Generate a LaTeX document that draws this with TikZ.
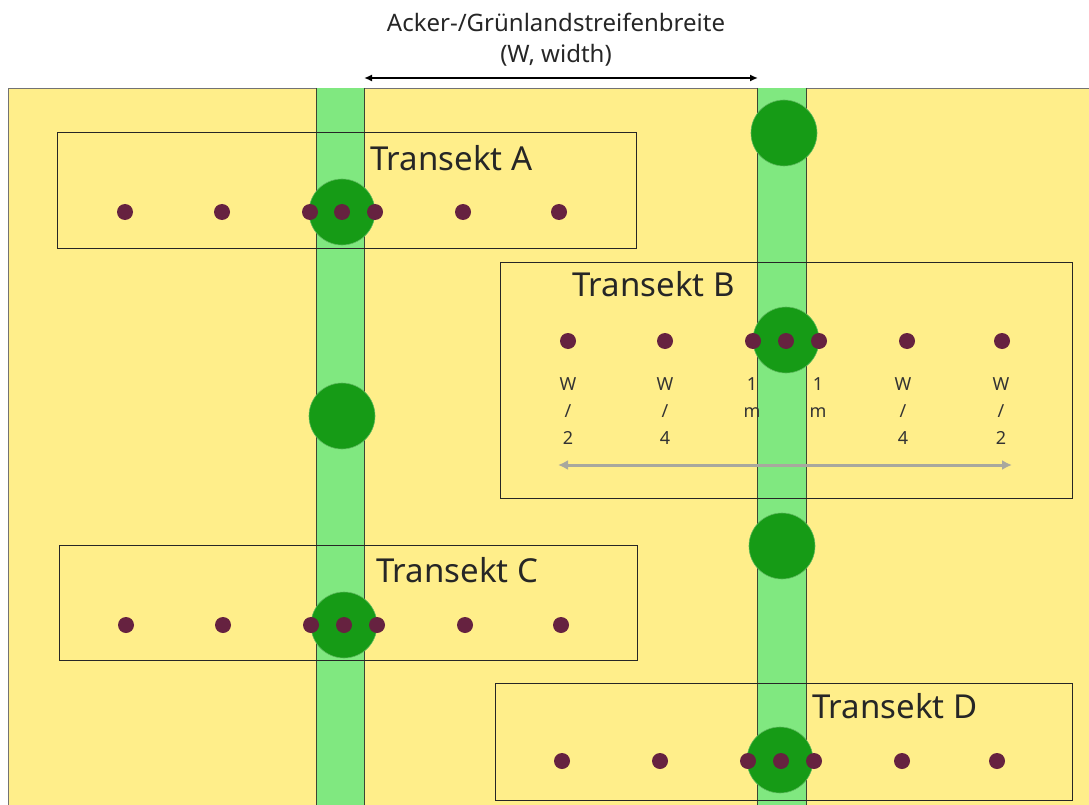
\documentclass[tikz,border=0pt]{standalone}
\usepackage{fontspec}
\setmainfont{Noto Sans}
\usetikzlibrary{arrows.meta}
\definecolor{field}{RGB}{255,238,138}
\definecolor{stripc}{RGB}{128,232,128}
\definecolor{treec}{RGB}{22,155,22}
\definecolor{dotc}{RGB}{102,34,64}
\definecolor{arrowgray}{RGB}{168,168,158}
\definecolor{edgec}{RGB}{60,70,50}
\begin{document}
\begin{tikzpicture}[x=1pt,y=-1pt,
  stripedge/.style={draw=edgec,line width=0.7pt},
  treeblob/.style={fill=treec,draw=treec!70!white,line width=0.6pt},
  pt/.style={fill=dotc},
  tbox/.style={draw=black!85,line width=1pt},
  tlabel/.style={font=\fontsize{33}{38}\selectfont,text=black!85,inner sep=0pt},
  slabel/.style={font=\fontsize{18}{27}\selectfont,text=black!80,align=center,inner sep=0pt},
  toplabel/.style={font=\fontsize{24}{31}\selectfont,text=black!85,align=center,inner sep=0pt}]
\useasboundingbox (0,0) rectangle (1089,805);
% field
\fill[field] (8,88) rectangle (1089,805);
\draw[draw=black!55,line width=0.9pt] (8,805) -- (8,88) -- (1089,88);
% strips
\fill[stripc] (316,88) rectangle (364,805);
\fill[stripc] (757,88) rectangle (806,805);
\draw[stripedge] (316,88) -- (316,805);
\draw[stripedge] (364,88) -- (364,805);
\draw[stripedge] (757,88) -- (757,805);
\draw[stripedge] (806,88) -- (806,805);
% trees
\foreach \x/\y in {342/212,784/133,342/416,786/340,782/546,344/625,780/760}
  \draw[treeblob] (\x,\y) circle (33pt);
% transect boxes
\draw[tbox] (57,133) rectangle (636,248);
\draw[tbox] (500,262) rectangle (1072,498);
\draw[tbox] (59,545) rectangle (637,660);
\draw[tbox] (495,683) rectangle (1072,800);
% sample points
\foreach \x in {125,222,310,342,375,463,559} \fill[pt] (\x,212) circle (8pt);
\foreach \x in {568,665,753,786,819,907,1002} \fill[pt] (\x,341) circle (8pt);
\foreach \x in {126,223,311,344,377,465,561} \fill[pt] (\x,625) circle (8pt);
\foreach \x in {562,660,748,781,814,902,997} \fill[pt] (\x,761) circle (8pt);
% labels
\node[tlabel,anchor=west] (la) at (370,158) {Transekt A};
\node[tlabel,anchor=west] (lb) at (572,284) {Transekt B};
\node[tlabel,anchor=west] (lc) at (376,570) {Transekt C};
\node[tlabel,anchor=west] (ld) at (812,706) {Transekt D};
% distance labels in B
\node[slabel] (b1) at (568,411) {W\\/\\2};
\node[slabel] (b2) at (665,411) {W\\/\\4};
\node[slabel] (b3) at (752,398) {1\\m};
\node[slabel] (b4) at (818,398) {1\\m};
\node[slabel] (b5) at (903,411) {W\\/\\4};
\node[slabel] (b6) at (1001,411) {W\\/\\2};
\coordinate (gl) at (558,465);
\coordinate (gr) at (1012,465);
\draw[arrowgray,line width=3pt,{Latex[length=10pt,width=10pt]}-{Latex[length=10pt,width=10pt]}] (gl) -- (gr);
% top
\node[toplabel] (title) at (556,40) {Acker-/Grünlandstreifenbreite\\(W, width)};
\coordinate (al) at (364,78);
\coordinate (ar) at (758,78);
\draw[black,line width=1.6pt,{Latex[length=8pt,width=7pt]}-{Latex[length=8pt,width=7pt]}] (al) -- (ar);
\end{tikzpicture}
\end{document}
